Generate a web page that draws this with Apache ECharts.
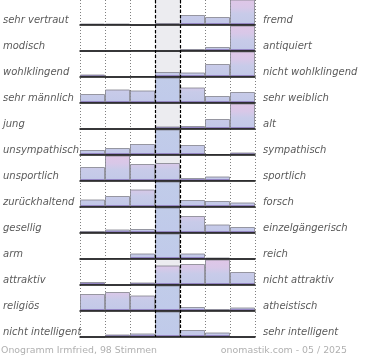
<!DOCTYPE html>
<html><head><meta charset="utf-8">
<script src="https://cdn.jsdelivr.net/npm/echarts@6/dist/echarts.min.js"></script>
<style>html,body{margin:0;padding:0;background:#fff}#c{width:370px;height:360px}</style>
</head><body><div id="c"></div>
<script>
// ---- data (share of votes in %, 7 steps from left adjective to right adjective) ----
const steps = ['1', '2', '3', '4', '5', '6', '7'];
const leftLabels = ['sehr vertraut', 'modisch', 'wohlklingend', 'sehr männlich', 'jung', 'unsympathisch', 'unsportlich', 'zurückhaltend', 'gesellig', 'arm', 'attraktiv', 'religiös', 'nicht intelligent'];
const rightLabels = ['fremd', 'antiquiert', 'nicht wohlklingend', 'sehr weiblich', 'alt', 'sympathisch', 'sportlich', 'forsch', 'einzelgängerisch', 'reich', 'nicht attraktiv', 'atheistisch', 'sehr intelligent'];
const vertraut      = [1.5, 1.5, 0, 2, 10, 8, 77];
const modisch       = [0, 0, 0.7, 0, 2, 4, 93];
const wohlklingend  = [2.5, 0, 1, 5, 4.5, 13, 74];
const maennlich     = [9, 13.5, 12.5, 31.5, 15.5, 7, 11];
const jung          = [0, 0, 0, 2.5, 3, 10, 84.5];
const unsympathisch = [5, 7, 11, 63.5, 10, 1, 2.5];
const unsportlich   = [14, 42.5, 17, 18, 3, 4.5, 1];
const zurueck       = [7.5, 11, 17.5, 46.5, 7, 6, 4.5];
const gesellig      = [2, 3.5, 4, 59, 17, 8.5, 6];
const arm           = [0, 1, 5.5, 86.5, 5.5, 1.5, 0];
const attraktiv     = [3, 0, 2.5, 19.5, 21, 41, 13];
const religioes     = [17, 19, 15.5, 39, 4, 2, 3.5];
const intelligent   = [0, 2.5, 3.5, 82.5, 7, 4.5, 0];
const rows = [vertraut, modisch, wohlklingend, maennlich, jung, unsympathisch, unsportlich, zurueck, gesellig, arm, attraktiv, religioes, intelligent];

// ---- layout / style ----
const LEFT = 80, WIDTH = 175, PITCH = 26, ROW_H = 25, YMAX = 25;
const PINK = [[0,'#dfc6e7'],[0.3,'#d8c8e8'],[0.55,'#c8cbe9'],[0.9,'#c3c9e8'],[0.92,'#9c8ec9'],[1,'#7a6ab2']];
const BLUE = [[0,'#c1cce9'],[0.9,'#c0caea'],[0.92,'#9c8ec9'],[1,'#7a6ab2']];
function fill(i, v, j) {
  const top = PITCH * i;
  const stops = (v > YMAX && j === 3) ? BLUE : PINK;
  return { type: 'linear', x: 0, y: top, x2: 0, y2: top + ROW_H, global: true,
    colorStops: stops.map(s => ({ offset: s[0], color: s[1] })) };
}
const labelStyle = { fontFamily: 'DejaVu Sans', fontStyle: 'italic', fontSize: 10, color: '#5a5a5a' };

const grid = [
  { left: LEFT, top: 0, width: WIDTH, height: 337, show: false },
  { left: 155, top: 0, width: 25, height: 337, show: true, backgroundColor: '#ececf0', borderWidth: 0 },
  { left: LEFT, top: 7, width: WIDTH, height: PITCH * 13, show: false }
];
const xAxis = [
  { gridIndex: 0, type: 'value', min: 0, max: 7, interval: 1, axisLine: { show: false }, axisTick: { show: false }, axisLabel: { show: false },
    splitLine: { show: true, lineStyle: { type: [1, 2], color: '#808080', width: 1 } } },
  { gridIndex: 1, type: 'value', min: 0, max: 1, interval: 1, z: 10, axisLine: { show: false }, axisTick: { show: false }, axisLabel: { show: false },
    splitLine: { show: true, lineStyle: { type: [3, 2], color: '#000', width: 1.2 } } },
  { gridIndex: 2, type: 'value', show: false }
];
const yAxis = [
  { gridIndex: 0, type: 'value', show: false },
  { gridIndex: 1, type: 'value', show: false },
  { gridIndex: 2, type: 'category', inverse: true, data: leftLabels, axisLine: { show: false }, axisTick: { show: false },
    axisLabel: Object.assign({ align: 'left', margin: 79 }, labelStyle) },
  { gridIndex: 2, type: 'category', position: 'right', inverse: true, data: rightLabels, axisLine: { show: false }, axisTick: { show: false },
    axisLabel: Object.assign({ align: 'left', margin: 8 }, labelStyle) }
];
const series = [];
rows.forEach((vals, i) => {
  const gi = grid.length;
  grid.push({ left: LEFT, top: PITCH * i, width: WIDTH, height: ROW_H, show: false });
  const xi = xAxis.length, yi = yAxis.length;
  xAxis.push({ gridIndex: gi, type: 'category', data: steps, z: 5,
    axisLine: { lineStyle: { color: '#111', width: 1.5 } }, axisTick: { show: false }, axisLabel: { show: false }, splitLine: { show: false } });
  yAxis.push({ gridIndex: gi, type: 'value', min: 0, max: YMAX, show: false });
  series.push({ type: 'bar', xAxisIndex: xi, yAxisIndex: yi, barWidth: '100%', clip: true, silent: true,
    itemStyle: { borderColor: 'rgba(130,130,140,0.8)', borderWidth: 1 },
    data: vals.map((v, j) => ({ value: v, itemStyle: { color: fill(i, v, j) } })) });
});

const chart = echarts.init(document.getElementById('c'), null, { renderer: 'canvas' });
chart.setOption({
  animation: false,
  title: [
    { text: 'Onogramm Irmfried, 98 Stimmen', left: 1, top: 346, padding: 0,
      textStyle: { fontFamily: 'DejaVu Sans', fontSize: 9.4, fontWeight: 'normal', color: '#b0b0b0' } },
    { text: 'onomastik.com - 05 / 2025', right: 23, top: 346, padding: 0,
      textStyle: { fontFamily: 'DejaVu Sans', fontSize: 9.4, fontWeight: 'normal', color: '#b0b0b0' } }
  ],
  grid, xAxis, yAxis, series
});
</script></body></html>
